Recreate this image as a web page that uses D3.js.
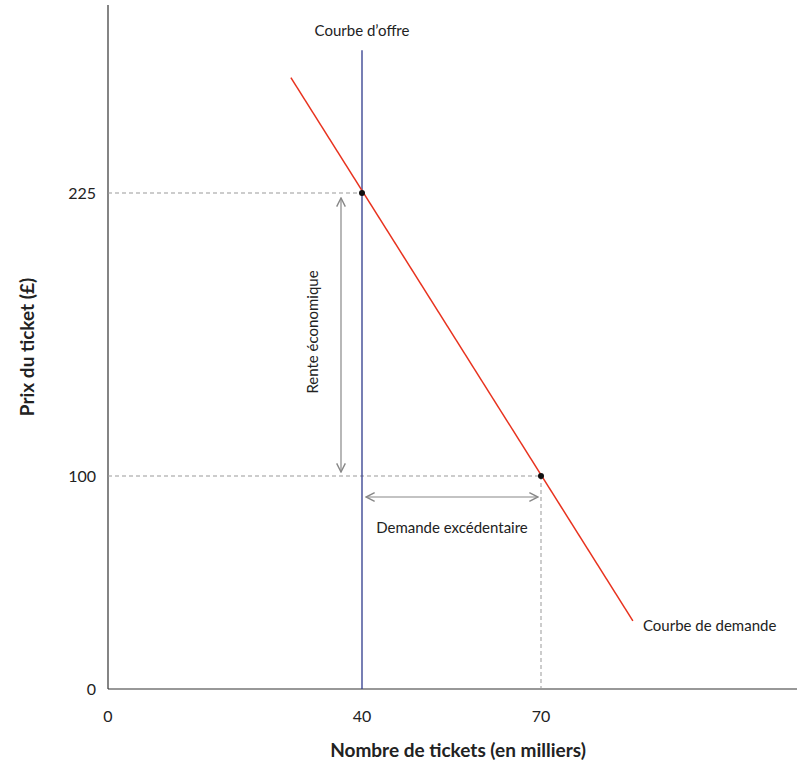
<!DOCTYPE html>
<html>
<head>
<meta charset="utf-8">
<script src="https://cdn.jsdelivr.net/npm/d3@7"></script>
<style>
  body { margin: 0; background: #fff; }
  text { font-family: Lato, "Open Sans", sans-serif; fill: #222; }
</style>
</head>
<body>
<div id="chart"></div>
<script>
// Data
var xTicks = [0, 40, 70];
var yTicks = [0, 100, 225];
var demand = [{q: 28.8, p: 276}, {q: 85.4, p: 32}];
var supply = [{q: 40, p: 0}, {q: 40, p: 288}];
var points = [{q: 40, p: 225}, {q: 70, p: 100}];

var svg = d3.select("#chart").append("svg")
    .attr("width", 810).attr("height", 771);

// Scales (schematic diagram, so piecewise linear)
var x = d3.scaleLinear().domain([0, 40, 70]).range([108, 362, 541]);
var y = d3.scaleLinear().domain([0, 100, 225]).range([689, 476, 193]);

var defs = svg.append("defs");
defs.append("marker").attr("id", "arr")
    .attr("viewBox", "0 0 10 10").attr("refX", 9).attr("refY", 5)
    .attr("markerWidth", 9).attr("markerHeight", 9).attr("orient", "auto-start-reverse")
    .append("path").attr("d", "M1,1 L9,5 L1,9").attr("fill", "none")
    .attr("stroke", "#888").attr("stroke-width", 1.3);

// Axes
svg.append("line").attr("x1", 108).attr("x2", 108).attr("y1", 5).attr("y2", 689)
    .attr("stroke", "#333").attr("stroke-width", 1.2);
svg.append("line").attr("x1", 108).attr("x2", 797).attr("y1", 689).attr("y2", 689)
    .attr("stroke", "#333").attr("stroke-width", 1.2);

svg.selectAll(".xt").data(xTicks).enter().append("text")
    .attr("x", function (d) { return x(d); }).attr("y", 722)
    .attr("text-anchor", "middle").attr("font-size", "16px").text(function (d) { return d; });
svg.selectAll(".yt").data(yTicks).enter().append("text")
    .attr("x", 96).attr("y", function (d) { return y(d) + 6; })
    .attr("text-anchor", "end").attr("font-size", "16px").text(function (d) { return d; });

// Dashed guides
var dash = svg.append("g").attr("stroke", "#999").attr("stroke-dasharray", "4,3").attr("stroke-width", 1);
dash.append("line").attr("x1", 108).attr("x2", x(40)).attr("y1", y(225)).attr("y2", y(225));
dash.append("line").attr("x1", 108).attr("x2", x(70)).attr("y1", y(100)).attr("y2", y(100));
dash.append("line").attr("x1", x(70)).attr("x2", x(70)).attr("y1", y(100)).attr("y2", y(0));

// Curves
var line = d3.line().x(function (d) { return x(d.q); }).y(function (d) { return y(d.p); });
svg.append("path").datum(supply).attr("d", line).attr("stroke", "#2e3a8c").attr("stroke-width", 1.3).attr("fill", "none");
svg.append("path").datum(demand).attr("d", line).attr("stroke", "#e8321e").attr("stroke-width", 1.5).attr("fill", "none");

svg.selectAll(".pt").data(points).enter().append("circle")
    .attr("cx", function (d) { return x(d.q); }).attr("cy", function (d) { return y(d.p); })
    .attr("r", 3).attr("fill", "#111");

// Arrows
svg.append("line").attr("x1", 341).attr("x2", 341).attr("y1", y(225) + 5).attr("y2", y(100) - 4)
    .attr("stroke", "#888").attr("stroke-width", 1.2)
    .attr("marker-start", "url(#arr)").attr("marker-end", "url(#arr)");
svg.append("line").attr("x1", x(40) + 4).attr("x2", x(70) - 3).attr("y1", 497).attr("y2", 497)
    .attr("stroke", "#888").attr("stroke-width", 1.2)
    .attr("marker-start", "url(#arr)").attr("marker-end", "url(#arr)");

// Labels
svg.append("text").attr("x", x(40)).attr("y", 36).attr("text-anchor", "middle")
    .attr("font-size", "15px").text("Courbe d’offre");
svg.append("text").attr("x", 643).attr("y", 631).attr("font-size", "15px").text("Courbe de demande");
svg.append("text").attr("x", 452).attr("y", 533).attr("text-anchor", "middle")
    .attr("font-size", "15px").text("Demande excédentaire");
svg.append("text").attr("transform", "translate(318,332) rotate(-90)").attr("text-anchor", "middle")
    .attr("font-size", "15px").text("Rente économique");

svg.append("text").attr("x", 458).attr("y", 757).attr("text-anchor", "middle")
    .attr("font-size", "19px").attr("font-weight", "bold").text("Nombre de tickets (en milliers)");
svg.append("text").attr("transform", "translate(34,347) rotate(-90)").attr("text-anchor", "middle")
    .attr("font-size", "19px").attr("font-weight", "bold").text("Prix du ticket (£)");
</script>
</body>
</html>
